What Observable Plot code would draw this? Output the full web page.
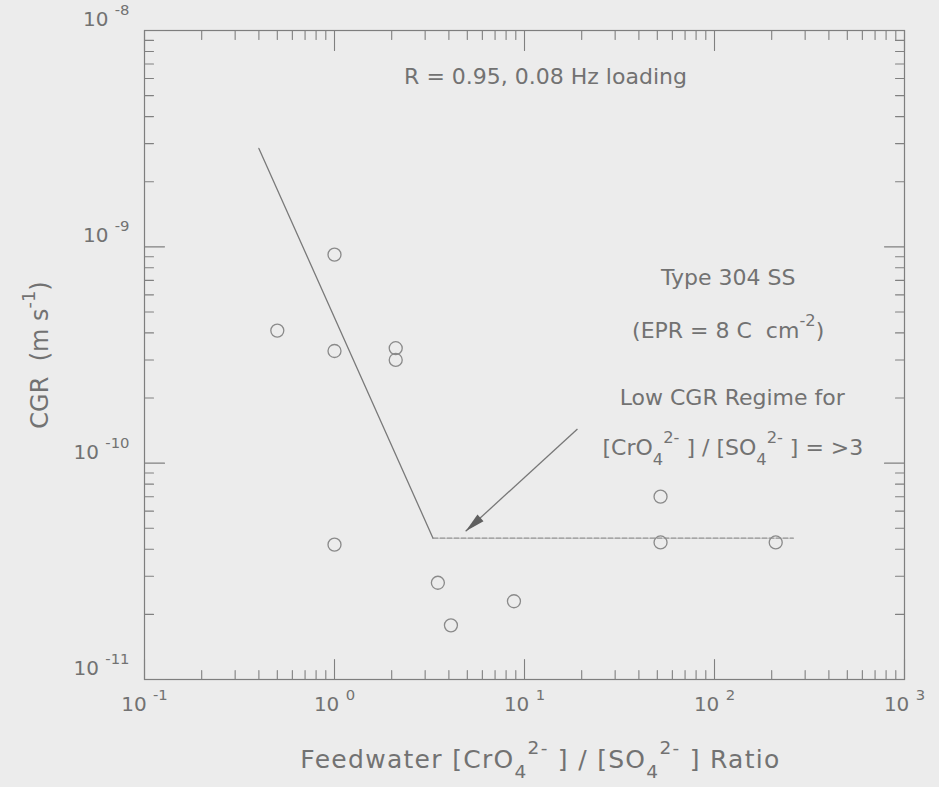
<!DOCTYPE html>
<html><head><meta charset="utf-8">
<script src="https://cdn.jsdelivr.net/npm/d3@7"></script>
<script src="https://cdn.jsdelivr.net/npm/@observablehq/plot@0.6"></script>
<style>
html,body{margin:0;padding:0;background:#ececec;}
#chart{width:939px;height:787px;overflow:hidden;}
</style></head><body><div id="chart"></div>
<script>
// Data
const ratio = [1.0, 0.5, 1.0, 2.1, 2.1, 1.0, 3.5, 4.1, 8.8, 52, 52, 210];
const cgr = [9.2e-10, 4.1e-10, 3.3e-10, 3.4e-10, 3.0e-10, 4.2e-11, 2.8e-11, 1.78e-11, 2.3e-11, 7.0e-11, 4.3e-11, 4.3e-11];
const trendRatio = [0.40, 3.3];
const trendCgr = [2.85e-9, 4.5e-11];
const floorRatio = [3.3, 260];
const floorCgr = [4.5e-11, 4.5e-11];
const arrowRatio = [19, 4.9];
const arrowCgr = [1.44e-10, 4.84e-11];
const xTickValues = [0.1, 1, 10, 100, 1000];
const xTickLabels = ["10 ^{-1}", "10 ^{0}", "10 ^{1}", "10 ^{2}", "10 ^{3}"];
const yTickValues = [1e-11, 1e-10, 1e-9, 1e-8];
const yTickLabels = ["10 ^{-11}", "10 ^{-10}", "10 ^{-9}", "10 ^{-8}"];
const noteText = ["R = 0.95, 0.08 Hz loading", "Type 304 SS", "(EPR = 8 C  cm^{-2})", "Low CGR Regime for", "[CrO_{4}^{2-} ] / [SO_{4}^{2-} ] = >3"];
const noteRatio = [12.9, 118, 118, 124, 125];
const noteCgr = [6.1e-9, 7.2e-10, 4.1e-10, 2.0e-10, 1.17e-10];
const xTitle = "Feedwater [CrO_{4}^{2-} ] / [SO_{4}^{2-} ] Ratio";
const yTitle = "CGR  (m s^{-1})";

const points = ratio.map((r, i) => ({r, c: cgr[i]}));
const trend = trendRatio.map((r, i) => ({r, c: trendCgr[i]}));
const floor = floorRatio.map((r, i) => ({r, c: floorCgr[i]}));
const arrow = [{x1: arrowRatio[0], y1: arrowCgr[0], x2: arrowRatio[1], y2: arrowCgr[1]}];
const notes = noteText.map((t, i) => ({t, r: noteRatio[i], c: noteCgr[i]}));

const isMajor = v => Math.abs(Math.log10(v) - Math.round(Math.log10(v))) < 1e-6;
const xMinor = d3.scaleLog().domain([0.1, 1000]).ticks().filter(v => !isMajor(v));
const yMinor = d3.scaleLog().domain([1e-11, 1e-8]).ticks().filter(v => !isMajor(v));

const ink = "#727272";
const tickInk = "#808080";
const font = "DejaVu Sans";

function ticks(values, anchor, rotate, len) {
  const ch = (anchor === "top" || anchor === "bottom") ? "x" : "y";
  return Plot.vector(values, {[ch]: d => d, frameAnchor: anchor, rotate, length: len, anchor: "start", r: 0, stroke: tickInk, strokeWidth: 1.1});
}

const chart = Plot.plot({
  width: 939, height: 787,
  marginLeft: 144, marginRight: 35, marginTop: 30, marginBottom: 108,
  style: {background: "#ececec", fontFamily: font},
  x: {type: "log", domain: [0.1, 1000], axis: null},
  y: {type: "log", domain: [1e-11, 1e-8], axis: null},
  marks: [
    Plot.frame({stroke: "#7e7e7e", strokeWidth: 1.2}),
    ticks(xMinor, "bottom", 0, 9), ticks(xTickValues, "bottom", 0, 20),
    ticks(xMinor, "top", 180, 9), ticks(xTickValues, "top", 180, 20),
    ticks(yMinor, "left", 90, 9), ticks(yTickValues, "left", 90, 20),
    ticks(yMinor, "right", -90, 9), ticks(yTickValues, "right", -90, 20),
    Plot.text(xTickValues, {x: d => d, frameAnchor: "bottom", dy: 31, textAnchor: "middle", text: (d, i) => xTickLabels[i], fontSize: 20, fill: ink, fontFamily: font}),
    Plot.text(yTickValues, {y: d => d, frameAnchor: "left", dx: -15, dy: -11, textAnchor: "end", text: (d, i) => yTickLabels[i], fontSize: 20, fill: ink, fontFamily: font}),
    Plot.text([xTitle], {frameAnchor: "bottom", dx: 16, dy: 88, textAnchor: "middle", text: d => d, fontSize: 25, fill: ink, fontFamily: font, className: "xtitle"}),
    Plot.text([yTitle], {frameAnchor: "left", dx: -104, rotate: -90, textAnchor: "middle", text: d => d, fontSize: 24, fill: ink, fontFamily: font}),
    Plot.line(trend, {x: "r", y: "c", stroke: "#7a7a7a", strokeWidth: 1.3}),
    Plot.line(floor, {x: "r", y: "c", stroke: "#8e8e8e", strokeWidth: 1.2, strokeDasharray: "5,2"}),
    Plot.link(arrow, {x1: "x1", y1: "y1", x2: "x2", y2: "y2", stroke: "#777", strokeWidth: 1.3}),
    Plot.vector(arrow, {x: "x2", y: "y2", anchor: "end", rotate: -132, length: 20, shape: "spike", r: 4.5, fill: "#606060", stroke: "none"}),
    Plot.dot(points, {x: "r", y: "c", r: 6.5, stroke: "#8a8a8a", strokeWidth: 1.3, fill: "none"}),
    Plot.text(notes, {x: "r", y: "c", text: "t", fontSize: 22, fill: ink, fontFamily: font})
  ]
});
document.getElementById("chart").appendChild(chart);
chart.querySelectorAll(".xtitle text").forEach(t => t.setAttribute("letter-spacing", "1.3"));

// turn ^{...} and _{...} into raised / lowered tspans
const NS = "http://www.w3.org/2000/svg";
chart.querySelectorAll("text").forEach(t => {
  const s = t.textContent;
  if (!/[\^_]\{/.test(s)) return;
  const size = parseFloat(getComputedStyle(t).fontSize) || 18;
  const parts = s.split(/(\^\{[^}]*\}|_\{[^}]*\})/).filter(p => p !== "");
  while (t.firstChild) t.removeChild(t.firstChild);
  let shift = 0;
  for (const p of parts) {
    const ts = document.createElementNS(NS, "tspan");
    let target = 0, content = p, small = false;
    if (p.startsWith("^{")) { target = -0.55 * size; content = p.slice(2, -1); small = true; }
    else if (p.startsWith("_{")) { target = 0.42 * size; content = p.slice(2, -1); small = true; }
    const dy = target - shift;
    if (dy) ts.setAttribute("dy", dy.toFixed(2));
    shift = target;
    if (small) ts.setAttribute("font-size", (0.74 * size).toFixed(1));
    ts.textContent = content;
    t.appendChild(ts);
  }
});
</script>
</body></html>
